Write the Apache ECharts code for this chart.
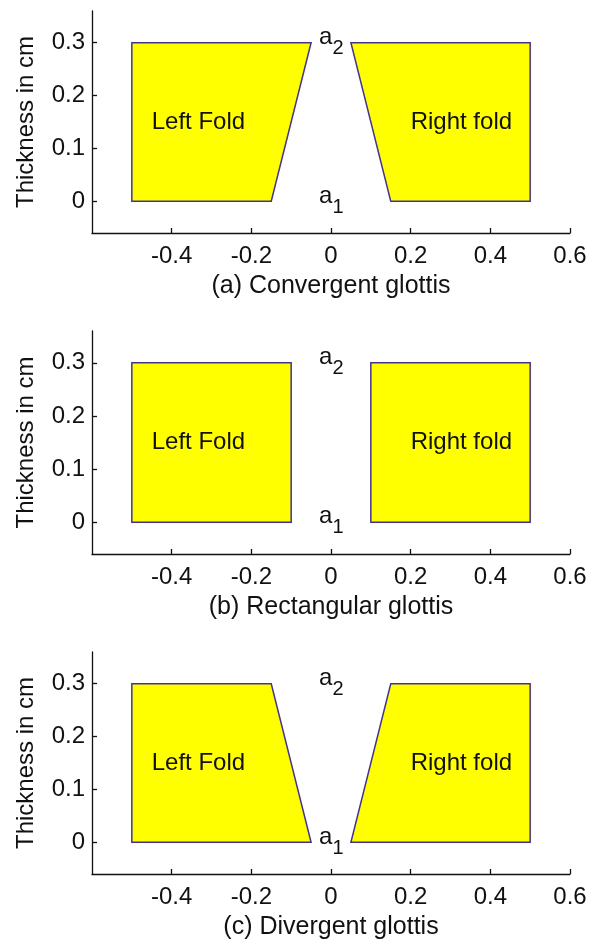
<!DOCTYPE html>
<html>
<head>
<meta charset="utf-8">
<script src="https://cdn.jsdelivr.net/npm/echarts@6/dist/echarts.min.js"></script>
<style>
  html, body { margin: 0; padding: 0; background: #ffffff; }
  #chart { width: 590px; height: 941px; }
</style>
</head>
<body>
<div id="chart"></div>
<script>
// Axis ticks (cm)
const xTicks = [-0.4, -0.2, 0, 0.2, 0.4, 0.6];
const yTicks = [0, 0.1, 0.2, 0.3];

// Panel captions
const captions = ['(a) Convergent glottis', '(b) Rectangular glottis', '(c) Divergent glottis'];

// Fold outlines: [x, y] vertices in cm
const convergentLeft  = [[-0.5, 0], [-0.5, 0.3], [-0.05, 0.3], [-0.15, 0]];
const convergentRight = [[0.5, 0], [0.5, 0.3], [0.05, 0.3], [0.15, 0]];
const rectangularLeft  = [[-0.5, 0], [-0.5, 0.3], [-0.1, 0.3], [-0.1, 0]];
const rectangularRight = [[0.5, 0], [0.5, 0.3], [0.1, 0.3], [0.1, 0]];
const divergentLeft  = [[-0.5, 0], [-0.5, 0.3], [-0.15, 0.3], [-0.05, 0]];
const divergentRight = [[0.5, 0], [0.5, 0.3], [0.15, 0.3], [0.05, 0]];

// Text annotations: [text, x, y]
const foldLabels = [['Left Fold', -0.45, 0.15], ['Right fold', 0.2, 0.15]];
// Gap labels: [base, subscript, x, y]
const gapLabels = [['a', '2', -0.03, 0.31], ['a', '1', -0.03, 0.01]];

const panels = [
  [convergentLeft, convergentRight],
  [rectangularLeft, rectangularRight],
  [divergentLeft, divergentRight]
];

const FONT = '"Liberation Sans", Arial, sans-serif';
const INK = '#111111';
const gridTops = [11, 331, 652];
const gridHeights = [222, 223, 223];

const grids = [], xAxes = [], yAxes = [], series = [];

panels.forEach((folds, i) => {
  grids.push({ left: 92, right: 20, top: gridTops[i], height: gridHeights[i] });

  xAxes.push({
    type: 'value', gridIndex: i, min: -0.6, max: 0.6,
    name: captions[i], nameLocation: 'middle', nameGap: 41,
    nameTextStyle: { fontFamily: FONT, fontSize: 25, color: INK },
    axisLine: { onZero: false, lineStyle: { color: INK, width: 1.3 } },
    axisTick: { inside: true, length: 5, customValues: xTicks, lineStyle: { color: INK, width: 1.3 } },
    axisLabel: {
      customValues: xTicks, margin: 11, fontFamily: FONT, fontSize: 24, color: INK,
      formatter: v => String(Math.round(v * 10) / 10)
    },
    splitLine: { show: false }
  });

  yAxes.push({
    type: 'value', gridIndex: i, min: -0.06, max: 0.36,
    name: 'Thickness in cm', nameLocation: 'middle', nameGap: 54,
    nameTextStyle: { fontFamily: FONT, fontSize: 24, color: INK },
    axisLine: { onZero: false, lineStyle: { color: INK, width: 1.3 } },
    axisTick: { inside: true, length: 5, customValues: yTicks, lineStyle: { color: INK, width: 1.3 } },
    axisLabel: {
      customValues: yTicks, margin: 7, fontFamily: FONT, fontSize: 24, color: INK,
      formatter: v => String(Math.round(v * 10) / 10)
    },
    splitLine: { show: false }
  });

  // Yellow fold polygons
  folds.forEach(verts => {
    series.push({
      type: 'custom', xAxisIndex: i, yAxisIndex: i, clip: false,
      data: verts,
      renderItem: (params, api) => {
        if (params.dataIndex !== 0) return;
        return {
          type: 'polygon',
          shape: { points: verts.map(v => api.coord(v)) },
          style: { fill: '#ffff00', stroke: '#45348f', lineWidth: 1.5 }
        };
      },
      silent: true
    });
  });

  // Fold names
  series.push({
    type: 'scatter', xAxisIndex: i, yAxisIndex: i, symbolSize: 0, silent: true,
    itemStyle: { opacity: 1 },
    data: foldLabels.map(d => ({ value: [d[1], d[2]], name: d[0] })),
    label: {
      show: true, position: 'right', distance: 0,
      formatter: p => p.name,
      fontFamily: FONT, fontSize: 24, color: INK
    }
  });

  // Gap opening labels with subscripts
  series.push({
    type: 'scatter', xAxisIndex: i, yAxisIndex: i, symbolSize: 0, silent: true,
    itemStyle: { opacity: 1 },
    data: gapLabels.map(d => ({ value: [d[2], d[3]], name: '{a|' + d[0] + '}{s|' + d[1] + '}' })),
    label: {
      show: true, position: 'right', distance: 0,
      formatter: p => p.name,
      rich: {
        a: { fontFamily: FONT, fontSize: 24, color: INK },
        s: { fontFamily: FONT, fontSize: 20, color: INK, padding: [22, 0, 0, 0] }
      }
    }
  });
});

const chart = echarts.init(document.getElementById('chart'), null, { renderer: 'canvas' });
chart.setOption({
  backgroundColor: '#ffffff',
  animation: false,
  grid: grids,
  xAxis: xAxes,
  yAxis: yAxes,
  series: series
});
</script>
</body>
</html>
